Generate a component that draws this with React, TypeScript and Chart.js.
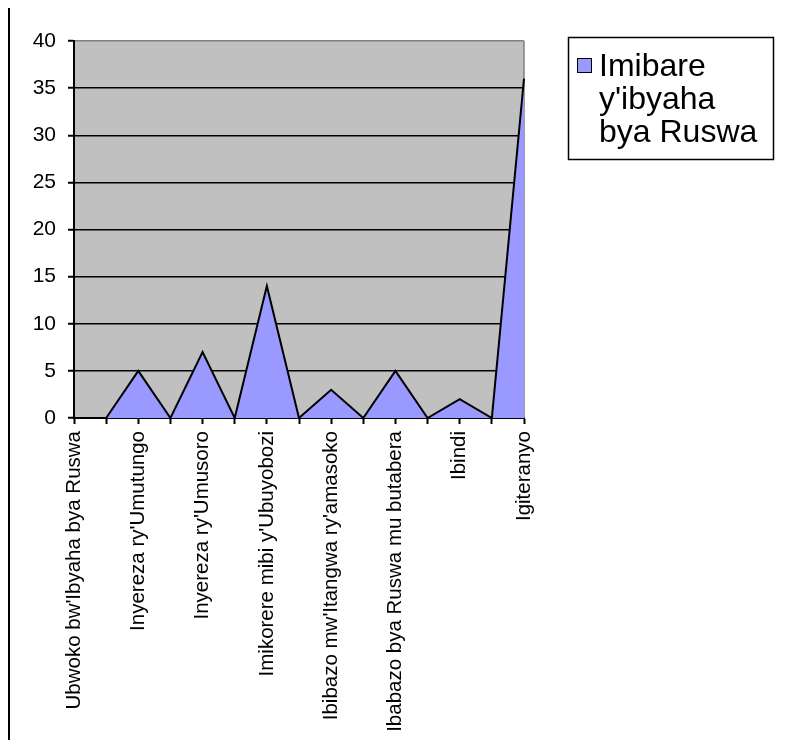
import React, { useEffect, useRef } from "react";
import { Chart, registerables } from "chart.js";

Chart.register(...registerables);

const CATEGORIES: string[] = [
  "Ubwoko bw'Ibyaha bya Ruswa",
  "",
  "Inyereza ry'Umutungo",
  "",
  "Inyereza ry'Umusoro",
  "",
  "Imikorere mibi y'Ubuyobozi",
  "",
  "Ibibazo mw'Itangwa ry'amasoko",
  "",
  "Ibabazo bya Ruswa mu butabera",
  "",
  "Ibindi",
  "",
  "Igiteranyo",
];
const VALUES: number[] = [0, 0, 5, 0, 7, 0, 14, 0, 3, 0, 5, 0, 2, 0, 36];
const SERIES_NAME_LINES: string[] = ["Imibare", "y'ibyaha", "bya Ruswa"];
const Y_MIN = 0;
const Y_MAX = 40;
const Y_STEP = 5;

const FONT = '"Liberation Sans", Arial, sans-serif';
const W = 790;
const H = 738;

const decorPlugin = {
  id: "decor",
  beforeDraw(chart: any) {
    const { ctx, chartArea: a } = chart;
    ctx.save();
    ctx.fillStyle = "#c0c0c0";
    ctx.fillRect(a.left, a.top, a.right - a.left, a.bottom - a.top);
    ctx.restore();
  },
  beforeDatasetsDraw(chart: any) {
    const { ctx, chartArea: a } = chart;
    ctx.save();
    ctx.strokeStyle = "#808080";
    ctx.lineWidth = 1.5;
    ctx.beginPath();
    ctx.moveTo(a.right, a.top);
    ctx.lineTo(a.right, a.bottom);
    ctx.stroke();
    ctx.restore();
  },
  afterDraw(chart: any) {
    const { ctx } = chart;
    ctx.save();
    // outer frame (top and left edges visible)
    ctx.fillStyle = "#000";
    ctx.fillRect(0, 1, W, 2);
    ctx.fillRect(1, 1, 2, H);
    // legend box
    const bx = 561.5, by = 35.5, bw = 205, bh = 122;
    ctx.fillStyle = "#fff";
    ctx.fillRect(bx, by, bw, bh);
    ctx.strokeStyle = "#000";
    ctx.lineWidth = 1.5;
    ctx.strokeRect(bx, by, bw, bh);
    // marker
    ctx.fillStyle = "#9999ff";
    ctx.fillRect(570.5, 56.5, 14, 14);
    ctx.lineWidth = 1;
    ctx.strokeRect(570.5, 56.5, 14, 14);
    // text
    ctx.fillStyle = "#000";
    ctx.font = "32px " + FONT;
    ctx.textAlign = "left";
    ctx.textBaseline = "alphabetic";
    SERIES_NAME_LINES.forEach((t, i) => {
      ctx.fillText(t, 592, 74 + i * 33);
    });
    ctx.restore();
  },
};

export default function App() {
  const ref = useRef<HTMLCanvasElement | null>(null);
  useEffect(() => {
    if (!ref.current) return;
    const chart = new Chart(ref.current, {
      type: "line",
      data: {
        labels: CATEGORIES,
        datasets: [
          {
            label: SERIES_NAME_LINES.join(" "),
            data: VALUES,
            fill: "origin",
            backgroundColor: "#9999ff",
            borderColor: "#000",
            borderWidth: 2,
            pointRadius: 0,
            tension: 0,
          },
        ],
      },
      options: {
        responsive: false,
        animation: false,
        layout: { padding: { left: 0, top: 39, right: W - 517, bottom: 0 } },
        plugins: { legend: { display: false }, tooltip: { enabled: false } },
        scales: {
          x: {
            type: "category",
            offset: false,
            afterFit(s: any) {
              s.height = H - 416;
            },
            grid: {
              display: true,
              drawOnChartArea: false,
              drawTicks: true,
              tickLength: 6,
              tickColor: "#000",
              tickWidth: 2,
            },
            border: { display: true, color: "#000", width: 2 },
            ticks: {
              autoSkip: false,
              maxRotation: 90,
              minRotation: 90,
              padding: 7,
              color: "#000",
              font: { family: FONT, size: 20.5 },
            },
          },
          y: {
            min: Y_MIN,
            max: Y_MAX,
            afterFit(s: any) {
              s.width = 67;
            },
            grid: {
              color: (c: any) => (c.tick && c.tick.value === Y_MAX ? "#808080" : "#000"),
              lineWidth: 1.5,
              drawTicks: true,
              tickLength: 6,
              tickColor: "#000",
              tickWidth: 2,
            },
            border: { display: true, color: "#000", width: 2 },
            ticks: {
              stepSize: Y_STEP,
              padding: 12,
              color: "#000",
              font: { family: FONT, size: 21 },
            },
          },
        },
      },
      plugins: [decorPlugin],
    });
    return () => chart.destroy();
  }, []);
  return (
    <div style={{ marginTop: -6, marginLeft: -1, width: W, height: H }}>
      <canvas ref={ref} width={W} height={H} style={{ display: "block", width: W, height: H }} />
    </div>
  );
}
